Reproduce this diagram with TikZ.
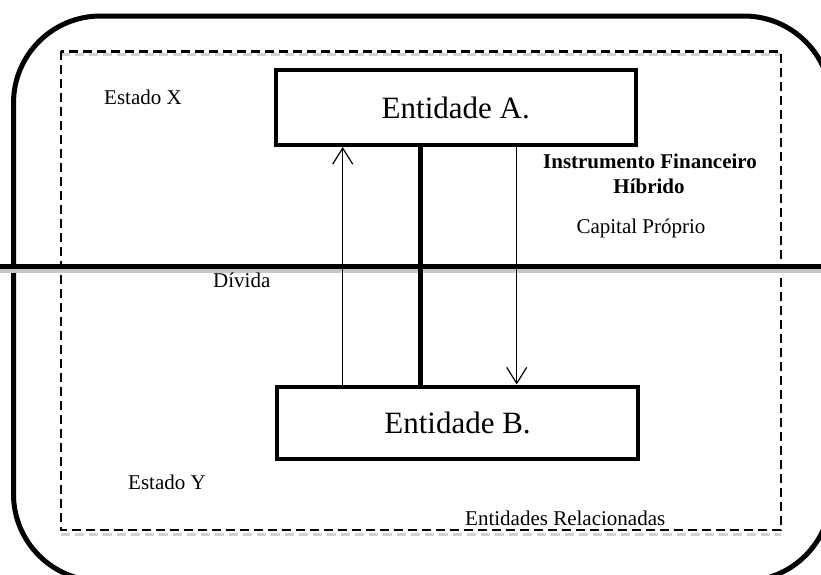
\documentclass[tikz,border=0pt]{standalone}
\usepackage{fontspec}
\setmainfont{Liberation Serif}
\usetikzlibrary{arrows.meta}
\tikzset{
  txt/.style={font=\fontsize{21}{24}\selectfont, inner sep=0pt, anchor=base west},
  bigbox/.style={draw, line width=4pt, font=\fontsize{31}{36}\selectfont, inner sep=0pt},
  flow/.style={line width=1.2pt, -{Straight Barb[length=16pt,width=20pt]}},
  dashedframe/.style={line width=2.5pt, dash pattern=on 9pt off 5pt},
  shadowline/.style={line width=3pt, dash pattern=on 9pt off 5pt, black!18},
}
\begin{document}
\begin{tikzpicture}[x=1pt,y=-1pt]
\useasboundingbox (0,0) rectangle (821,574);
\begin{scope}
\clip (0,0) rectangle (821,574);
% outer rounded frame (right and bottom sides lie just outside the picture)
\draw[line width=5pt, rounded corners=87pt] (13.5,16) rectangle (831,581);
\end{scope}
% dashed frame with grey shadows
\draw[shadowline] (61,54.7) -- (781,54.7);
\draw[shadowline] (61,534) -- (781,534);
\draw[dashedframe] (61,51.3) rectangle (781,530);
% border line between states
\draw[line width=4pt, black!22] (0,271) -- (821,271);
\draw[line width=4.3pt] (0,266.5) -- (821,266.5);
% entities
\node[bigbox, minimum width=359.5pt, minimum height=75pt] (A) at (455.75,107.5) {Entidade A.};
\node[bigbox, minimum width=361pt, minimum height=72pt] (B) at (457.5,422.5) {Entidade B.};
% links
\coordinate (xl) at (420.5,0);
\coordinate (xu) at (342.7,0);
\coordinate (xd) at (516.7,0);
\draw[line width=5pt] (A.south -| xl) -- (B.north -| xl);
\draw[flow] (B.north -| xu) -- (A.south -| xu);
\draw[flow] (A.south -| xd) -- (B.north -| xd);
% labels
\node[txt] (ex) at (104,104) {Estado X};
\node[txt] (ey) at (128,489) {Estado Y};
\node[txt] (div) at (213,287) {Dívida};
\node[txt, anchor=base, font=\fontsize{21}{24}\selectfont\bfseries] (ifh1) at (650,168) {Instrumento Financeiro};
\node[txt, anchor=base, font=\fontsize{21}{24}\selectfont\bfseries] (ifh2) at (649,193) {Híbrido};
\node[txt, anchor=base] (cp) at (641,233) {Capital Próprio};
\node[txt] (er) at (465,525) {Entidades Relacionadas};
\end{tikzpicture}
\end{document}
